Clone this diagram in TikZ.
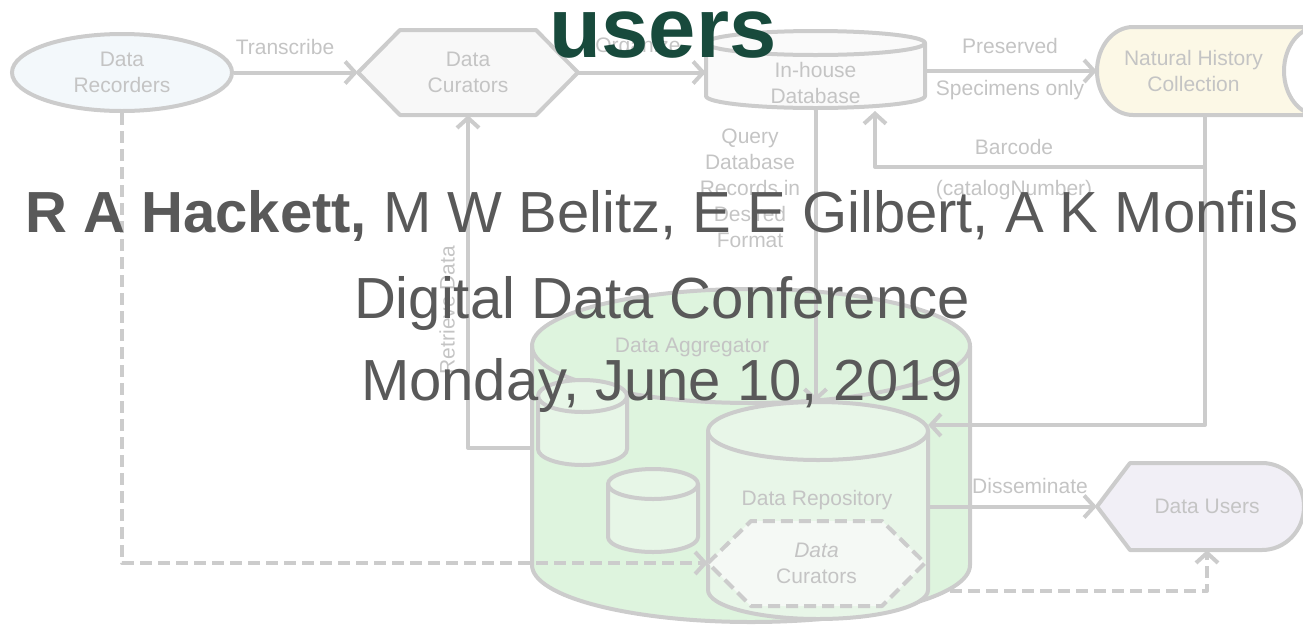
\documentclass[tikz,border=0pt]{standalone}
\usepackage{fontspec}
\setmainfont{Liberation Sans}
\usetikzlibrary{arrows.meta,shapes.geometric}
\definecolor{lc}{HTML}{CCCCCC}
\definecolor{tc}{HTML}{C4C4C4}
\definecolor{oc}{HTML}{595959}
\definecolor{uc}{HTML}{184A3C}
\definecolor{recfill}{HTML}{F3F8FB}
\definecolor{curfill}{HTML}{F8F8F8}
\definecolor{dbfill}{HTML}{FAFAFA}
\definecolor{nhcfill}{HTML}{FCF8E6}
\definecolor{aggfill}{HTML}{DEF4DE}
\definecolor{smallfill}{HTML}{E7F6E7}
\definecolor{repofill}{HTML}{E8F6E8}
\definecolor{dhexfill}{HTML}{F5F9F5}
\definecolor{usersfill}{HTML}{F1EFF6}
\newcommand{\mycyl}[6]{%
  \pgfmathsetmacro{\myrx}{(#2-#1)/2}%
  \filldraw[ln,fill=#6] (#1,#3) -- (#1,#4) arc[start angle=180,end angle=360,x radius=\myrx,y radius=#5] -- (#2,#3) arc[start angle=0,end angle=180,x radius=\myrx,y radius=#5] -- cycle;
  \draw[ln] (#1,#3) arc[start angle=180,end angle=360,x radius=\myrx,y radius=#5];
}
\begin{document}
\begin{tikzpicture}[x=1pt,y=1pt,
  lbl/.style={text=tc, font=\fontsize{21}{26}\selectfont, align=center, inner sep=0pt},
  box/.style={lbl, minimum width=#1},
  ln/.style={draw=lc, line width=4pt, line join=round},
  arr/.style={ln, -{Straight Barb[length=10pt,width=22pt]}},
  dsh/.style={ln, dash pattern=on 12pt off 6pt, -{Straight Barb[length=10pt,width=22pt]}},
  ovl/.style={text=oc, font=\fontsize{58}{60}\selectfont, inner sep=0pt}]
\useasboundingbox (0,0) rectangle (1303,-625);
\clip (0,0) rectangle (1303,-625);
% ---- shapes ----
\mycyl{532}{970}{-346}{-565}{57}{aggfill}
\mycyl{538}{627}{-396}{-449}{16}{smallfill}
\mycyl{608}{698}{-484}{-537}{15}{smallfill}
\mycyl{708}{928}{-431}{-590}{29}{repofill}
\filldraw[ln, dash pattern=on 12pt off 6pt, fill=dhexfill] (708,-563) -- (751,-521) -- (882,-521) -- (925,-563) -- (882,-606) -- (751,-606) -- cycle;
\mycyl{706}{925}{-43}{-96}{12}{dbfill}
\filldraw[ln, fill=curfill] (358,-72.5) -- (400,-30) -- (536,-30) -- (578,-72.5) -- (536,-115) -- (400,-115) -- cycle;
\filldraw[ln, fill=nhcfill] (1318,-27) -- (1133,-27) arc[start angle=90,end angle=270,x radius=36,y radius=44] -- (1318,-115) arc[start angle=270,end angle=90,x radius=34,y radius=44] -- cycle;
\filldraw[ln, fill=usersfill] (1097,-506.5) -- (1130,-463) -- (1262,-463) arc[start angle=90,end angle=-90,x radius=42,y radius=43.5] -- (1130,-550) -- cycle;
% ---- nodes ----
\node[lbl, ellipse, draw=lc, line width=4pt, fill=recfill, minimum width=220pt, minimum height=77pt] (rec) at (122,-72.5) {Data\\Recorders};
\node[box=220pt, minimum height=85pt] (cur) at (468,-72.5) {Data\\Curators};
\node[box=219pt, minimum height=50pt] (db) at (815.5,-83) {In-house\\Database};
\node[box=193pt, minimum height=88pt] (nhc) at (1193.5,-71) {Natural History\\Collection};
\node[box=438pt, minimum height=334pt] (agg) at (751,-455) {};
\node[lbl] (aggl) at (692,-347) {Data Aggregator};
\node[box=220pt, minimum height=208pt] (repo) at (818,-506) {};
\node[lbl] (repol) at (817,-500) {Data Repository};
\node[box=217pt, minimum height=85pt] (dcur) at (816.5,-563) {\textit{Data}\\Curators};
\node[box=220pt, minimum height=87pt] (users) at (1207,-506.5) {Data Users};
% ---- connectors ----
\coordinate (bcor) at (1205,-167);
\coordinate (bdb) at (875,-111);
\coordinate (rcor) at (1205,-425);
\coordinate (rtc) at (468,-448);
\coordinate (dcorn) at (122,-563);
\coordinate (ustart) at (950,-591);
\coordinate (ucorn) at (1207,-591);
\draw[arr] (rec.east) -- (cur.west);
\draw[arr] (cur.east) -- (cur.east -| db.west);
\draw[arr] (db.east |- nhc.west) -- (nhc.west);
\draw[arr] (nhc.south -| bcor) -- (bcor) -- (bcor -| bdb) -- (bdb);
\draw[arr] (bcor) -- (rcor) -- (rcor -| repo.east);
\draw[arr] (db.south) -- (db.south |- repo.north);
\draw[arr] (rtc -| agg.west) -- (rtc) -- (cur.south);
\draw[dsh] (rec.south) -- (dcorn) -- (dcur.west);
\draw[arr] (repo.east |- users.west) -- (users.west);
\draw[dsh] (ustart) -- (ucorn) -- (users.south);
% ---- labels ----
\node[lbl] (tTrans) at (285,-47) {Transcribe};
\node[lbl] (tOrg) at (638,-47) {Organize};
\node[lbl] (tPres) at (1010,-46) {Preserved};
\node[lbl] (tSpec) at (1010,-90) {Specimens only};
\node[lbl] (tBar) at (1014,-147) {Barcode};
\node[lbl] (tCat) at (1014,-190) {(catalogNumber)};
\node[lbl] (tQuery) at (750,-188) {Query\\Database\\Records in\\Desired\\Format};
\node[lbl, rotate=90] (tRet) at (447,-310) {Retrieve Data};
\node[lbl] (tDiss) at (1030,-486) {Disseminate};
% ---- overlay ----
\node[text=uc, font=\fontsize{85}{87}\selectfont\bfseries, inner sep=0pt, anchor=base] (ttl) at (663,-57) {users};
\node[ovl, anchor=base] (auth) at (662,-232) {\textbf{R A Hackett,} M W Belitz, E E Gilbert, A K Monfils};
\node[ovl, anchor=base] (conf) at (662,-318) {Digital Data Conference};
\node[ovl, anchor=base] (date) at (662,-400) {Monday, June 10, 2019};
\end{tikzpicture}
\end{document}
